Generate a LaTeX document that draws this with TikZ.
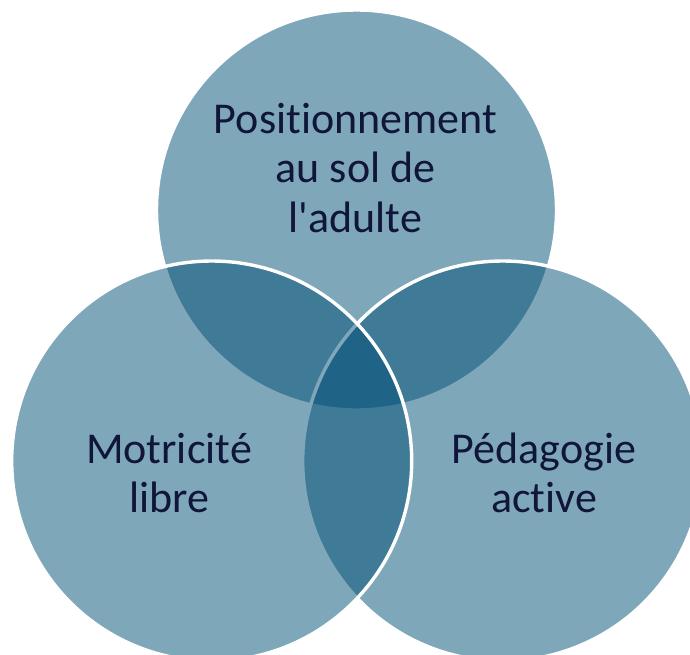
\documentclass[tikz,border=0pt]{standalone}
\usepackage{fontspec}
\newfontfamily\vennfont{Carlito}[RawFeature={-liga;-clig}]
\definecolor{venncol}{RGB}{0,79,117}
\definecolor{venntext}{RGB}{16,22,58}
\tikzset{
  venncircle/.style={circle, inner sep=0pt, minimum size=400pt,
    fill=venncol, fill opacity=0.5, draw=white, draw opacity=1, line width=3.4pt},
  vennlabel/.style={text=venntext, align=center, anchor=base, inner sep=0pt,
    font=\vennfont\fontsize{44}{49.5}\selectfont}
}
\begin{document}
\begin{tikzpicture}[x=1pt,y=-1pt]
\useasboundingbox (0,0) rectangle (690,654);
\clip (0,0) rectangle (690,654);
\node[venncircle] (topc) at (356.5,210) {};
\node[venncircle] (rightc) at (502.7,461) {};
\node[venncircle] (leftc) at (211.7,461) {};
\node[vennlabel] (toplabel) at (355.5,232.3) {Positionnement\\au sol de\\l'adulte};
\node[vennlabel] (leftlabel) at (169,512.5) {Motricité\\libre};
\node[vennlabel] (rightlabel) at (544,512.5) {Pédagogie\\active};
\end{tikzpicture}
\end{document}
